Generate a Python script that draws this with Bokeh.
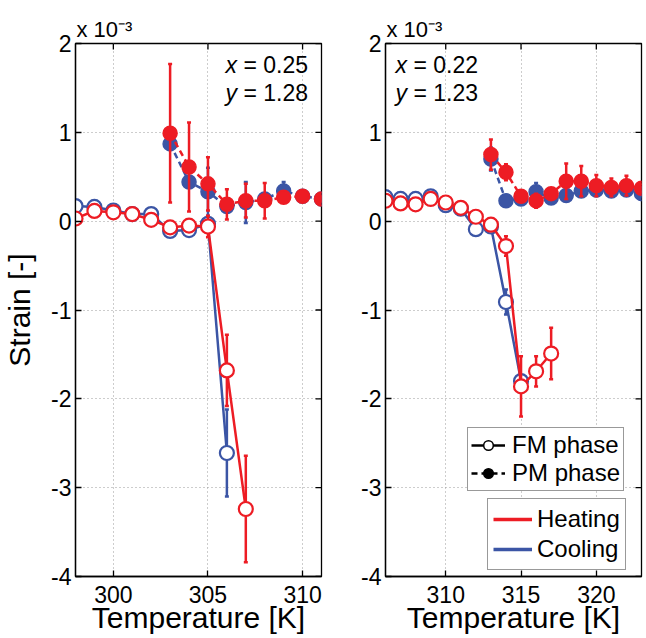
import numpy as np
from bokeh.plotting import figure
from bokeh.models import ColumnDataSource, Label, Legend, LegendItem, FixedTicker, Range1d
from bokeh.layouts import row
from bokeh.embed import file_html
from bokeh.resources import INLINE

RED = "#ED1C24"
BLUE = "#3B55A5"
FONT = "Liberation Sans"

# ---------------- data (strain in units of 1e-3) ----------------
L_heat_fm_T = [298, 299, 300, 301, 302, 303, 304, 305, 306, 307]
L_heat_fm_y = [0.03, 0.115, 0.10, 0.08, 0.015, -0.07, -0.05, -0.06, -1.68, -3.24]
L_heat_fm_e = [0.03, 0.03, 0.03, 0.03, 0.03, 0.03, 0.03, 0.12, 0.40, 0.60]
L_cool_fm_T = [298, 299, 300, 301, 302, 303, 304, 305, 306]
L_cool_fm_y = [0.17, 0.16, 0.12, 0.08, 0.08, -0.11, -0.10, -0.03, -2.61]
L_cool_fm_e = [0.03, 0.03, 0.03, 0.03, 0.03, 0.03, 0.03, 0.05, 0.49]
L_heat_pm_T = [303, 304, 305, 306, 307, 308, 309, 310, 311]
L_heat_pm_y = [0.99, 0.61, 0.42, 0.19, 0.23, 0.23, 0.27, 0.28, 0.25]
L_heat_pm_e = [0.78, 0.50, 0.30, 0.17, 0.19, 0.20, 0.06, 0.03, 0.03]
L_cool_pm_T = [303, 304, 305, 306, 307, 308, 309, 310, 311]
L_cool_pm_y = [0.87, 0.44, 0.33, 0.165, 0.21, 0.25, 0.34, 0.28, 0.25]
L_cool_pm_e = [0.05, 0.05, 0.27, 0.05, 0.23, 0.05, 0.10, 0.03, 0.03]

R_heat_fm_T = [306, 307, 308, 309, 310, 311, 312, 313, 314, 315, 316, 317]
R_heat_fm_y = [0.23, 0.20, 0.19, 0.25, 0.21, 0.15, 0.05, -0.04, -0.28, -1.86, -1.69, -1.49]
R_heat_fm_e = [0.03, 0.03, 0.03, 0.05, 0.03, 0.03, 0.03, 0.03, 0.11, 0.34, 0.17, 0.29]
R_cool_fm_T = [306, 307, 308, 309, 310, 311, 312, 313, 314, 315]
R_cool_fm_y = [0.27, 0.25, 0.25, 0.28, 0.18, 0.14, -0.09, -0.06, -0.91, -1.80]
R_cool_fm_e = [0.03, 0.03, 0.03, 0.03, 0.03, 0.03, 0.03, 0.03, 0.14, 0.05]
R_heat_pm_T = [313, 314, 315, 316, 317, 318, 319, 320, 321, 322, 323]
R_heat_pm_y = [0.75, 0.55, 0.28, 0.23, 0.31, 0.45, 0.45, 0.40, 0.38, 0.40, 0.37]
R_heat_pm_e = [0.17, 0.09, 0.05, 0.08, 0.05, 0.20, 0.17, 0.12, 0.10, 0.11, 0.05]
R_cool_pm_T = [313, 314, 315, 316, 317, 318, 319, 320, 321, 322, 323]
R_cool_pm_y = [0.70, 0.23, 0.25, 0.33, 0.26, 0.29, 0.34, 0.35, 0.34, 0.35, 0.31]
R_cool_pm_e = [0.13, 0.03, 0.03, 0.10, 0.03, 0.03, 0.03, 0.03, 0.03, 0.03, 0.03]

Y_TICKS = [-4, -3, -2, -1, 0, 1, 2]
L_X_TICKS = [300, 305, 310]
R_X_TICKS = [310, 315, 320]
X_LABEL = "Temperature [K]"
Y_LABEL = "Strain [-]"
MULT = "x 10\u207b\u00b3"

FH = 533      # frame height (px)
TOP = 43      # border above the frame
BOTTOM = 60   # border below the frame


def series(p, T, y, e, color, dashed, filled):
    T = np.asarray(T, float)
    y = np.asarray(y, float)
    e = np.asarray(e, float)
    src = ColumnDataSource(dict(x=T, y=y, lo=y - e, hi=y + e))
    p.line("x", "y", source=src, line_color=color, line_width=2.5,
           line_dash="6 4" if dashed else "solid")
    p.segment(x0="x", y0="lo", x1="x", y1="hi", source=src, line_color=color, line_width=2.5)
    p.scatter("x", "hi", source=src, marker="dash", size=4, line_color=color, line_width=2.5)
    p.scatter("x", "lo", source=src, marker="dash", size=4, line_color=color, line_width=2.5)
    p.scatter("x", "y", source=src, marker="circle", size=14,
              fill_color=color if filled else "white", line_color=color,
              line_width=1.5 if filled else 2.2)


def make_panel(xr, xticks, fw, bl, br, ylabel, sets, comp, txt_x):
    p = figure(frame_width=fw, frame_height=FH, x_range=Range1d(*xr),
               y_range=Range1d(-4, 2), output_backend="svg", toolbar_location=None,
               min_border_left=bl, min_border_right=br, min_border_top=TOP,
               min_border_bottom=BOTTOM, background_fill_color="white",
               border_fill_color="white")
    p.outline_line_color = "black"
    p.outline_line_width = 1.3
    p.outline_line_alpha = 1

    # multiplier shown above the top-left corner
    p.title.text = MULT
    p.title.align = "left"
    p.title.offset = 1
    p.title.standoff = 3
    p.title.text_font = FONT
    p.title.text_font_size = "22px"
    p.title.text_font_style = "normal"
    p.title.text_color = "black"

    p.xaxis.ticker = FixedTicker(ticks=xticks)
    p.yaxis.ticker = FixedTicker(ticks=Y_TICKS)
    p.yaxis.major_label_overrides = {t: str(t) for t in Y_TICKS}
    for ax in (p.xaxis[0], p.yaxis[0]):
        ax.major_tick_in = 6
        ax.major_tick_out = 0
        ax.minor_tick_line_color = None
        ax.axis_line_color = "black"
        ax.axis_line_width = 1.3
        ax.major_tick_line_width = 1.3
        ax.major_label_text_font = FONT
        ax.major_label_text_font_size = "23px"
        ax.major_label_text_color = "black"
        ax.major_label_text_line_height = 1.0
        ax.axis_label_text_font = FONT
        ax.axis_label_text_font_size = "30px"
        ax.axis_label_text_font_style = "normal"
        ax.axis_label_text_color = "black"
        ax.axis_label_text_line_height = 1.0
    p.xaxis.axis_label = X_LABEL
    p.xaxis.major_label_standoff = 9
    p.xaxis.axis_label_standoff = -5
    p.yaxis.major_label_standoff = 4
    if ylabel:
        p.yaxis.axis_label = ylabel
        p.yaxis.axis_label_standoff = 12

    # inward ticks on the top and right edges of the box
    p.ray(x=xticks, y=[2] * len(xticks), length=6, length_units="screen",
          angle=-np.pi / 2, line_color="black", line_width=1.3)
    p.ray(x=[xr[1]] * len(Y_TICKS), y=Y_TICKS, length=6, length_units="screen",
          angle=np.pi, line_color="black", line_width=1.3)

    p.xgrid.grid_line_color = "#9a9a9a"
    p.xgrid.grid_line_dash = "1 3"
    p.ygrid.grid_line_color = "#9a9a9a"
    p.ygrid.grid_line_dash = "1 3"

    for (T, y, e, color, dashed, filled) in sets:
        series(p, T, y, e, color, dashed, filled)

    # composition annotation
    for i, (var, val) in enumerate(comp):
        yc = FH - 21.3 - i * 28.4
        p.add_layout(Label(x=txt_x, y=yc, x_units="screen", y_units="screen", text=var,
                           text_font=FONT, text_font_size="23px", text_font_style="italic",
                           text_color="black", text_baseline="middle"))
        p.add_layout(Label(x=txt_x + 18, y=yc, x_units="screen", y_units="screen",
                           text="= " + val, text_font=FONT, text_font_size="23px",
                           text_color="black", text_baseline="middle"))
    return p


p1 = make_panel((298, 311), L_X_TICKS, 246, 72, 6, Y_LABEL, [
    (L_cool_fm_T, L_cool_fm_y, L_cool_fm_e, BLUE, False, False),
    (L_cool_pm_T, L_cool_pm_y, L_cool_pm_e, BLUE, True, True),
    (L_heat_fm_T, L_heat_fm_y, L_heat_fm_e, RED, False, False),
    (L_heat_pm_T, L_heat_pm_y, L_heat_pm_e, RED, True, True),
], [("x", "0.25"), ("y", "1.28")], 150)

p2 = make_panel((306, 323), R_X_TICKS, 256, 58, 2, None, [
    (R_cool_fm_T, R_cool_fm_y, R_cool_fm_e, BLUE, False, False),
    (R_cool_pm_T, R_cool_pm_y, R_cool_pm_e, BLUE, True, True),
    (R_heat_fm_T, R_heat_fm_y, R_heat_fm_e, RED, False, False),
    (R_heat_pm_T, R_heat_pm_y, R_heat_pm_e, RED, True, True),
], [("x", "0.22"), ("y", "1.23")], 10)


def dummy():
    return ColumnDataSource(dict(x=[np.nan], y=[np.nan]))


fm_line = p2.line("x", "y", source=dummy(), line_color="black", line_width=2.5)
fm_mark = p2.scatter("x", "y", source=dummy(), marker="circle", size=12,
                     fill_color="white", line_color="black", line_width=1.5)
pm_line = p2.line("x", "y", source=dummy(), line_color="black", line_width=2.5,
                  line_dash="6 4")
pm_mark = p2.scatter("x", "y", source=dummy(), marker="circle", size=12,
                     fill_color="black", line_color="black", line_width=1.5)
heat_line = p2.line("x", "y", source=dummy(), line_color=RED, line_width=3.5)
cool_line = p2.line("x", "y", source=dummy(), line_color=BLUE, line_width=3.5)


def style_legend(leg, h, pad, gw, so):
    leg.label_text_font = FONT
    leg.label_text_font_size = "24px"
    leg.label_text_color = "black"
    leg.label_text_line_height = 1.0
    leg.padding = pad
    leg.spacing = 0
    leg.margin = 0
    leg.glyph_width = gw
    leg.glyph_height = h
    leg.label_height = h
    leg.label_standoff = so
    leg.border_line_color = "#333333"
    leg.border_line_width = 1.3
    leg.background_fill_color = "white"
    leg.background_fill_alpha = 1


leg1 = Legend(items=[LegendItem(label="FM phase", renderers=[fm_line, fm_mark]),
                     LegendItem(label="PM phase", renderers=[pm_line, pm_mark])],
              location=(82, 85))
style_legend(leg1, 24, 3, 34, 7)
leg2 = Legend(items=[LegendItem(label="Heating", renderers=[heat_line]),
                     LegendItem(label="Cooling", renderers=[cool_line])],
              location=(102, 6))
style_legend(leg2, 30, 5, 39, 5)
p2.add_layout(leg1)
p2.add_layout(leg2)

layout = row(p1, p2)
open("out.html", "w").write(file_html(layout, INLINE))
